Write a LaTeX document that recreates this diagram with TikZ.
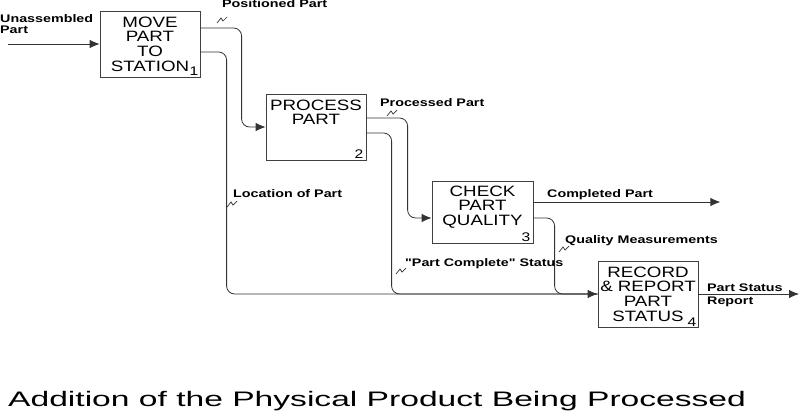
\documentclass[tikz,border=0pt]{standalone}
\usepackage{fontspec}
\setmainfont{Liberation Sans}
\newfontfamily\boxfont[FakeStretch=1.25]{Liberation Sans}
\newfontfamily\labfont[FakeStretch=1.3]{Liberation Sans}
\newfontfamily\capfont[FakeStretch=1.6]{Liberation Sans}
\usetikzlibrary{arrows.meta,calc}
\begin{document}
\begin{tikzpicture}[x=1pt,y=-1pt,
  line/.style={draw=black!80, line width=0.8pt},
  idefbox/.style={draw=black!75, line width=0.8pt, minimum width=100pt, minimum height=66pt, inner sep=0pt},
  boxtxt/.style={font=\boxfont\fontsize{15}{14.7}\selectfont, align=center, inner sep=0pt, anchor=north},
  boxnum/.style={font=\boxfont\fontsize{12.5}{12.5}\selectfont, inner sep=0pt, anchor=south east},
  lab/.style={font=\labfont\bfseries\fontsize{11}{11}\selectfont, inner sep=0pt, anchor=base west},
  flow/.style={line, rounded corners=8pt},
  tip/.style={-{Latex[length=10pt,width=8.5pt]}},
  squig/.pic={\draw[black!80, line width=0.7pt] (-5,3)--(-1,-2)--(1,1)--(5,-3);}
]
\useasboundingbox (0,0) rectangle (800,415);
% boxes
\node[idefbox] (b1) at (150,44) {};
\node[idefbox] (b2) at (316,127) {};
\node[idefbox, minimum width=101pt, minimum height=62pt] (b3) at (482.5,212) {};
\node[idefbox] (b4) at (648,294) {};
% box texts
\node[boxtxt] (t1) at ([yshift=-6pt]b1.north) {MOVE\\PART\\TO\\STATION};
\node[boxnum] (n1) at ([shift={(-2pt,2pt)}]b1.south east) {1};
\node[boxtxt] (t2) at ([yshift=-6pt]b2.north) {PROCESS\\PART};
\node[boxnum] (n2) at ([shift={(-3pt,2pt)}]b2.south east) {2};
\node[boxtxt] (t3) at ([yshift=-5pt]b3.north) {CHECK\\PART\\QUALITY};
\node[boxnum] (n3) at ([shift={(-3pt,2pt)}]b3.south east) {3};
\node[boxtxt] (t4) at ([yshift=-6pt]b4.north) {RECORD\\\& REPORT\\PART\\STATUS};
\node[boxnum] (n4) at ([shift={(-2pt,1pt)}]b4.south east) {4};
% free ends
\coordinate (in1) at (8,44);
\coordinate (o3) at ($(b3.east)+(187,-10)$);
\coordinate (o4) at (799,294);
% connectors
\draw[line,tip] (in1) -- (b1.west);
\draw[flow,tip] ([yshift=16pt]b1.east) -| ($(b2.west)+(-24,0)$) -- (b2.west);
\draw[flow,tip] ([yshift=-8pt]b1.east) -| ($(b4.west)+(-371,0)$) -- (b4.west);
\draw[flow,tip] ([yshift=9pt]b2.east) -| ($([yshift=-6pt]b3.west)+(-24,0)$) -- ([yshift=-6pt]b3.west);
\draw[flow] ([yshift=-6pt]b2.east) -| ($(b4.west)+(-206,0)$) -- (b4.west);
\draw[line,tip] ([yshift=10pt]b3.east) -- (o3);
\draw[flow] ([yshift=-6pt]b3.east) -| ($(b4.west)+(-43,0)$) -- (b4.west);
\draw[line,tip] (b4.east) -- (o4);
% labels
\node[lab, anchor=north west, align=left] (lu) at (0,14) {Unassembled\\Part};
\node[lab] (lpos) at (222,8) {Positioned Part};
\node[lab] (lproc) at (380,106) {Processed Part};
\node[lab] (lcomp) at (547,197) {Completed Part};
\node[lab] (lqual) at (565,243) {Quality Measurements};
\node[lab] (lloc) at (233,197) {Location of Part};
\node[lab] (lpc) at (405,266) {"Part Complete" Status};
\node[lab] (lps) at (707,291) {Part Status};
\node[lab] (lrep) at (707,304) {Report};
% squiggles
\pic at (222,20) {squig};
\pic at (392,113) {squig};
\pic at (564,249) {squig};
\pic at (232,204) {squig};
\pic at (401,271) {squig};
% caption
\node[font=\capfont\fontsize{21}{21}\selectfont, inner sep=0pt, anchor=base west] (cap) at (8,406) {Addition of the Physical Product Being Processed};
\end{tikzpicture}
\end{document}
